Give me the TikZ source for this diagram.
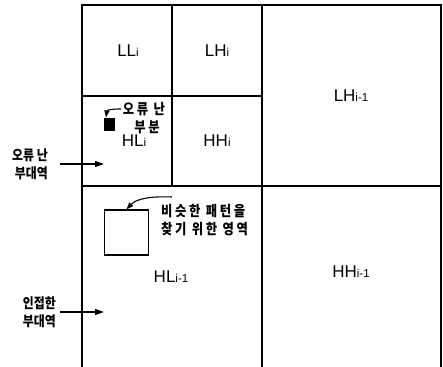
\documentclass[tikz,border=0pt]{standalone}
\usepackage{fontspec}
\setmainfont{Liberation Sans}
\newfontfamily\lat{Liberation Sans}
\newfontfamily\kr[LetterSpace=18,FakeStretch=0.85]{Noto Sans CJK KR}
\newfontfamily\krn[FakeStretch=0.85]{Noto Sans CJK KR}
\usetikzlibrary{arrows.meta}
\newcommand{\sbs}[1]{{\fontsize{11.5}{11.5}\selectfont #1}}
\tikzset{
  grid/.style={line width=1.2pt, line cap=rect},
  lab/.style={font=\lat\fontsize{17}{17}\selectfont, inner sep=0pt},
  krlab/.style={font=\kr\bfseries\fontsize{14.5}{18}\selectfont, inner sep=0pt},
  krside/.style={font=\krn\bfseries\fontsize{14}{18}\selectfont, inner sep=0pt, anchor=east, align=right},
  arr/.style={line width=1.2pt, -{Triangle[length=9pt,width=6pt]}},
  carr/.style={line width=1.1pt, -{Triangle[length=7pt,width=5pt]}}
}
\begin{document}
\begin{tikzpicture}[x=1pt,y=-1pt]
\useasboundingbox (0,0) rectangle (443,366);
% grid
\draw[grid] (82,366) -- (82,5) -- (441,5) -- (441,366);
\draw[grid] (262,5) -- (262,366);
\draw[grid] (172,5) -- (172,186);
\draw[grid] (82,96) -- (262,96);
\draw[grid] (82,186) -- (441,186);
% subband labels
\node[lab] (LL) at (128,51) {LL\sbs{i}};
\node[lab] (LH) at (217,51) {LH\sbs{i}};
\node[lab] (LH1) at (351,96) {LH\sbs{i-1}};
\node[lab] (HL) at (134,141) {HL\sbs{i}};
\node[lab] (HH) at (217,141) {HH\sbs{i}};
\node[lab] (HL1) at (171,277) {HL\sbs{i-1}};
\node[lab] (HH1) at (351,272) {HH\sbs{i-1}};
% error part
\node[draw, fill=black, line width=0.8pt, minimum width=10pt, minimum height=12pt, inner sep=0pt] (err) at (109.5,124.5) {};
\node[krlab, align=center] (errtxt) at (144,118) {오류 난\\\hspace*{6pt}부분};
\coordinate (c1s) at (121,109);
\draw[carr] (c1s) .. controls (112,109) and (107,110) .. (106,117.5);
% search window
\node[draw, line width=1.1pt, minimum width=44pt, minimum height=45pt, inner sep=0pt] (win) at (126.5,232.5) {};
\node[krlab, anchor=west, align=left] (wintxt) at (161,220) {비슷한 패턴을\\찾기 위한 영역};
\coordinate (c2s) at (172,197);
\draw[carr] (c2s) .. controls (150,196) and (136,199) .. (win.north);
% left labels
\node[krside] (errsb) at (48,164) {오류 난\\부대역};
\coordinate (a1s) at (60,164);
\coordinate (a1e) at (104,164);
\draw[arr] (a1s) -- (a1e);
\node[krside] (adjsb) at (56,312) {인접한\\부대역};
\coordinate (a2s) at (60,312);
\coordinate (a2e) at (104,312);
\draw[arr] (a2s) -- (a2e);
\end{tikzpicture}
\end{document}
